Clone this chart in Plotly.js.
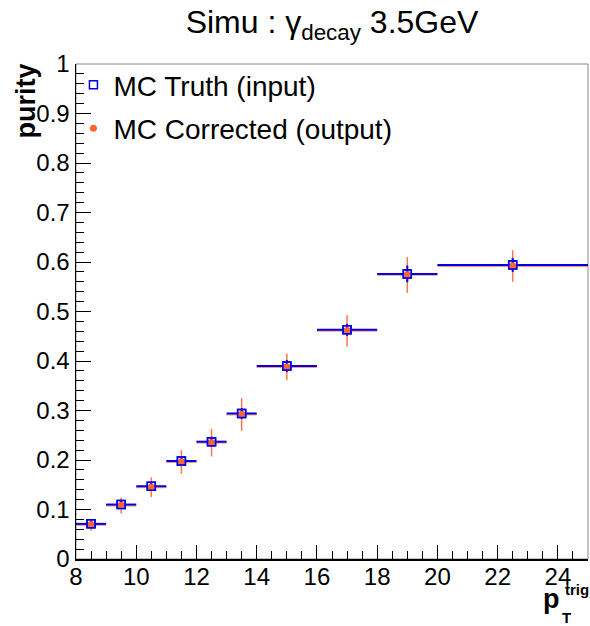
<!DOCTYPE html>
<html>
<head>
<meta charset="utf-8">
<script src="https://cdn.plot.ly/plotly-3.0.1.min.js"></script>
<style>html,body{margin:0;padding:0;background:#fff;}#chart{width:590px;height:626px;}</style>
</head>
<body>
<div id="chart"></div>
<script>
// Data
const ptCenter = [8.5, 9.5, 10.5, 11.5, 12.5, 13.5, 15, 17, 19, 22.5];
const binHalfWidth = [0.5, 0.5, 0.5, 0.5, 0.5, 0.5, 1, 1, 1, 2.5];
const truthPurity = [0.071, 0.110, 0.147, 0.198, 0.237, 0.294, 0.390, 0.463, 0.576, 0.594];
const truthErr = [0.006, 0.007, 0.008, 0.009, 0.010, 0.011, 0.012, 0.012, 0.017, 0.014];
const correctedPurity = [0.069, 0.108, 0.145, 0.196, 0.235, 0.292, 0.388, 0.461, 0.574, 0.592];
const correctedErr = [0.012, 0.016, 0.020, 0.024, 0.028, 0.033, 0.027, 0.032, 0.036, 0.032];
const seriesNames = ["MC Truth (input)", "MC Corrected (output)"];

const orange = "rgb(255,102,51)";
const blue = "rgb(0,0,230)";

const traces = [
  // orange error bars
  {
    x: ptCenter, y: correctedPurity, type: "scatter", mode: "markers",
    showlegend: false, hoverinfo: "skip",
    marker: {symbol: "circle", size: 7, color: orange},
    error_y: {type: "data", array: correctedErr, visible: true, color: "rgba(255,105,55,0.9)", thickness: 1.5, width: 0},
    error_x: {type: "data", array: binHalfWidth, visible: true, color: "rgba(255,110,60,0.7)", thickness: 2, width: 0}
  },
  // blue error bars
  {
    x: ptCenter, y: truthPurity, type: "scatter", mode: "markers",
    showlegend: false, hoverinfo: "skip",
    marker: {symbol: "square-open", size: 8, color: blue, line: {width: 1.5, color: blue}},
    error_y: {type: "data", array: truthErr, visible: true, color: blue, thickness: 2, width: 0},
    error_x: {type: "data", array: binHalfWidth, visible: true, color: blue, thickness: 2, width: 0}
  },
  // orange markers on top
  {
    x: ptCenter, y: correctedPurity, type: "scatter", mode: "markers",
    name: seriesNames[1], legendgroup: "b", legendrank: 2,
    marker: {symbol: "circle", size: 7, color: orange}
  },
  // blue squares on top
  {
    x: ptCenter, y: truthPurity, type: "scatter", mode: "markers",
    name: seriesNames[0], legendgroup: "a", legendrank: 1,
    marker: {symbol: "square-open", size: 8, color: blue, line: {width: 1.5, color: blue}}
  }
];

const font = "Liberation Sans, Arial, Helvetica, sans-serif";

const layout = {
  width: 590, height: 626,
  margin: {l: 76, r: 2, t: 64, b: 67},
  paper_bgcolor: "#fff", plot_bgcolor: "#fff",
  font: {family: font, color: "#000", size: 24},
  showlegend: true,
  title: {
    text: "Simu : γ<sub>decay</sub> 3.5GeV",
    font: {family: font, size: 32, color: "#000"},
    xref: "paper", x: 0.5, xanchor: "center",
    yref: "container", y: 0.965, yanchor: "middle"
  },
  legend: {
    x: -0.005, y: 1.008, xanchor: "left", yanchor: "top",
    bgcolor: "rgba(0,0,0,0)", borderwidth: 0,
    font: {family: font, size: 28, color: "#000"},
    traceorder: "grouped", tracegroupgap: 4,
    itemsizing: "trace"
  },
  xaxis: {
    range: [8, 25], dtick: 2, tick0: 8,
    ticks: "inside", ticklen: 14, tickwidth: 1, tickcolor: "#000",
    minor: {dtick: 0.5, ticks: "inside", ticklen: 8, tickcolor: "#000", showgrid: false},
    showgrid: false, zeroline: false,
    showline: true, linecolor: "#000", linewidth: 1.5,
    tickfont: {family: font, size: 24, color: "#000"},
    ticklabelstandoff: -4,
    fixedrange: true
  },
  yaxis: {
    range: [0, 1], dtick: 0.1, tick0: 0,
    ticks: "inside", ticklen: 15, tickwidth: 1, tickcolor: "#000",
    minor: {dtick: 0.02, ticks: "inside", ticklen: 8, tickcolor: "#000", showgrid: false},
    showgrid: false, zeroline: false,
    showline: true, linecolor: "#000", linewidth: 1.5,
    tickfont: {family: font, size: 24, color: "#000"},
    fixedrange: true
  },
  shapes: [
    {type: "rect", xref: "paper", yref: "paper", x0: 0, x1: 1, y0: 0, y1: 1,
     line: {color: "#888", width: 1}, fillcolor: "rgba(0,0,0,0)", layer: "below"}
  ],
  annotations: [
    {text: "<b>purity</b>", xref: "paper", yref: "paper", x: -0.097, y: 0.925,
     xanchor: "center", yanchor: "middle", textangle: -90, showarrow: false,
     font: {family: font, size: 27, color: "#000"}},
    {text: "<b>p</b>", xref: "paper", yref: "paper", x: 0.929, y: -0.081,
     xanchor: "center", yanchor: "middle", showarrow: false, borderpad: 0,
     font: {family: font, size: 27, color: "#000"}},
    {text: "<b>trig</b>", xref: "paper", yref: "paper", x: 1.004, y: -0.061,
     xanchor: "right", yanchor: "middle", showarrow: false, borderpad: 0,
     font: {family: font, size: 15, color: "#000"}},
    {text: "<b>T</b>", xref: "paper", yref: "paper", x: 0.958, y: -0.118,
     xanchor: "center", yanchor: "middle", showarrow: false, borderpad: 0,
     font: {family: font, size: 15, color: "#000"}}
  ]
};

Plotly.newPlot("chart", traces, layout, {displayModeBar: false, staticPlot: true});
</script>
</body>
</html>
